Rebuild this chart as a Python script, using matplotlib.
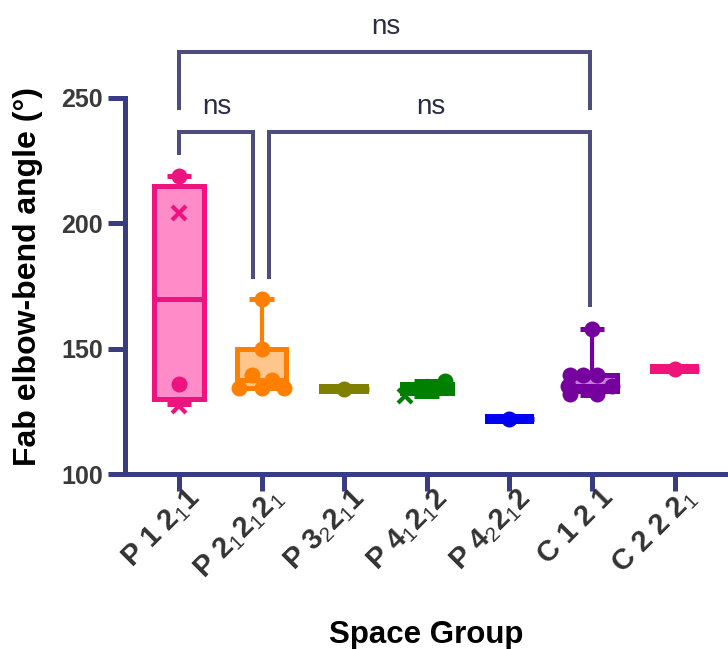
import matplotlib
matplotlib.use('Agg')
import matplotlib.pyplot as plt
import matplotlib.transforms as mtransforms

plt.rcParams['font.family'] = ['Liberation Sans', 'DejaVu Sans']
plt.rcParams['mathtext.fontset'] = 'custom'
plt.rcParams['mathtext.rm'] = 'Liberation Sans'
plt.rcParams['mathtext.default'] = 'regular'

# space groups and box summaries
groups = [r'P 1 2$_\mathrm{1}$1', r'P 2$_\mathrm{1}$2$_\mathrm{1}$2$_\mathrm{1}$',
          r'P 3$_\mathrm{2}$2$_\mathrm{1}$1', r'P 4$_\mathrm{1}$2$_\mathrm{1}$2',
          r'P 4$_\mathrm{2}$2$_\mathrm{1}$2', 'C 1 2 1', r'C 2 2 2$_\mathrm{1}$']
whislo = [128, 134.5, 134, 131, 122, 131.5, 142]
q1 = [130, 134.5, 134, 132.5, 122, 133, 142]
med = [170, 137.5, 134, 134, 122, 135, 142]
q3 = [215, 150, 134, 136, 122, 139.5, 142]
whishi = [219, 170, 134, 137, 122, 158, 142]

# individual structures (group index, angle, marker)
pt_group = [0, 0, 0, 0,
            1, 1, 1, 1, 1, 1, 1,
            2,
            3, 3,
            4,
            5, 5, 5, 5, 5, 5, 5, 5,
            6]
pt_value = [219, 204, 136, 127,
            170, 150, 139.5, 137.5, 134.5, 134.5, 134.5,
            134,
            137, 131,
            122,
            158, 139.5, 139.5, 139.5, 135, 135, 132, 132,
            142]
pt_marker = ['o', 'x', 'o', 'x',
             'o', 'o', 'o', 'o', 'o', 'o', 'o',
             'o',
             'o', 'x',
             'o',
             'o', 'o', 'o', 'o', 'o', 'o', 'o', 'o',
             'o']
# horizontal scatter of the dots
jitter = [0, 0, 0, 0,
          0, 0, -0.12, 0.12, -0.27, 0, 0.27,
          0,
          0.22, -0.27,
          0,
          0, -0.27, -0.11, 0.06, -0.29, 0.24, -0.27, 0.06,
          0]

edge_colors = ['#EE1480', '#FF8000', '#808000', '#008000', '#0000F5', '#76009E', '#F0147A']
fill_colors = ['#FF8CC8', '#FFC58A', '#808000', '#008000', '#0000F5', '#C27FD6', '#F0147A']

# significance brackets: (x left, x right, bar level, left leg end, right leg end, text x, text y)
brackets = [(0, 4.98, 268.3, 246, 246, 2.5, 278.5),
            (0, 0.895, 236.4, 228, 178.6, 0.46, 246.5),
            (1.09, 4.98, 236.4, 178.6, 167.4, 3.05, 246.5)]
bracket_text = ['ns', 'ns', 'ns']

axis_color = '#383C82'

fig = plt.figure(figsize=(7.28, 6.49), dpi=100)
ax = fig.add_axes([125 / 728, 1 - 474 / 649, 603 / 728, 474 / 649])

stats = [dict(whislo=whislo[i], q1=q1[i], med=med[i], q3=q3[i], whishi=whishi[i], label='')
         for i in range(len(groups))]
bp = ax.bxp(stats, positions=range(len(groups)), widths=0.6, patch_artist=True,
            showfliers=False, capwidths=0.3, manage_ticks=False)

for i in range(len(groups)):
    c = edge_colors[i]
    single = q1[i] == q3[i]
    box = bp['boxes'][i]
    box.set_facecolor(fill_colors[i])
    box.set_edgecolor(c)
    box.set_linewidth(3.6)
    box.set_joinstyle('miter')
    m = bp['medians'][i]
    m.set_color(c)
    m.set_linewidth(7.2 if single else 3.6)
    m.set_solid_capstyle('butt')
    for w in bp['whiskers'][2 * i:2 * i + 2]:
        w.set_color(c)
        w.set_linewidth(3.0)
    for cp in bp['caps'][2 * i:2 * i + 2]:
        cp.set_color(c)
        cp.set_linewidth(3.6)
        cp.set_solid_capstyle('butt')

for g, v, mk, j in zip(pt_group, pt_value, pt_marker, jitter):
    c = edge_colors[g]
    if mk == 'o':
        ax.plot(g + j, v, 'o', color=c, markersize=11.5, markeredgewidth=0, zorder=5)
    else:
        ax.plot(g + j, v, 'x', color=c, markersize=10, markeredgewidth=3, zorder=5)

for (xl, xr, yb, yl, yr, tx, ty), t in zip(brackets, bracket_text):
    ax.plot([xl, xl, xr, xr], [yl, yb, yb, yr], color='#4D4D7F', lw=2.9,
            solid_joinstyle='miter', clip_on=False, zorder=4)
    ax.text(tx, ty, t, ha='center', va='center', fontsize=20, color='#2B2B45')

ax.set_xlim(-0.654, 6.646)
ax.set_ylim(100, 100 + 474 / 2.507)

for s in ['top', 'right']:
    ax.spines[s].set_visible(False)
for s in ['left', 'bottom']:
    ax.spines[s].set_color(axis_color)
    ax.spines[s].set_linewidth(3.6)
ax.spines['left'].set_bounds(100, 250)
ax.spines['left'].set_capstyle('projecting')

ax.set_yticks([100, 150, 200, 250])
ax.set_xticks(range(len(groups)))
ax.set_xticklabels(groups, rotation=45, ha='right', rotation_mode='anchor',
                   fontsize=21, fontweight='bold', color='#333333')
ax.tick_params(axis='y', length=12, width=3.6, color=axis_color, labelsize=18,
               labelcolor='#3A3A3A', pad=4)
ax.tick_params(axis='x', length=12, width=3.6, color=axis_color, pad=2)
for lab in ax.get_yticklabels():
    lab.set_fontweight('bold')
# nudge the slanted labels to sit right of the tick marks
shift = mtransforms.ScaledTranslation(7 / 100, 10 / 100, fig.dpi_scale_trans)
for lab in ax.get_xticklabels():
    lab.set_transform(lab.get_transform() + shift)

ax.set_ylabel('Fab elbow-bend angle (°)', fontsize=23, fontweight='bold', color='black')
ax.yaxis.set_label_coords(-0.136, 0.416)
ax.set_xlabel('Space Group', fontsize=22.5, fontweight='bold', color='black')
ax.xaxis.set_label_coords(0.499, -0.308)

fig.savefig('out.png', dpi=100)
